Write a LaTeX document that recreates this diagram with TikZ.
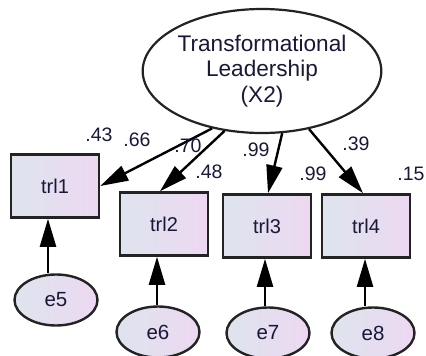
\documentclass[tikz,border=0pt]{standalone}
\usepackage{fontspec}
\setmainfont{Liberation Sans}
\usetikzlibrary{arrows.meta,shapes.geometric}
\definecolor{ink}{RGB}{24,24,56}
\definecolor{edge}{RGB}{35,35,35}
\definecolor{fillA}{RGB}{222,228,238}
\definecolor{fillB}{RGB}{237,216,241}
\begin{document}
\begin{tikzpicture}[x=1pt,y=-1pt,
  obs/.style={draw=edge, line width=2.6pt, rectangle, left color=fillA, right color=fillB,
    minimum width=88pt, minimum height=63pt, inner sep=0pt, text=ink,
    font=\fontsize{20}{24}\selectfont},
  err/.style={draw=edge, line width=2.4pt, ellipse, left color=fillA, right color=fillB,
    minimum width=83pt, minimum height=51pt, inner sep=0pt, text=ink,
    font=\fontsize{20.5}{24}\selectfont},
  lat/.style={draw=edge, line width=2.2pt, ellipse, fill=white,
    minimum width=220pt, minimum height=124pt, inner sep=0pt, align=center, text=ink,
    font=\fontsize{22.6}{25.5}\selectfont},
  link/.style={draw=black, line width=2.4pt, -{Triangle[length=28pt,width=16pt]}},
  coef/.style={text=ink, inner sep=0pt, font=\fontsize{19.5}{22}\selectfont}]
\useasboundingbox (0,0) rectangle (426,356);

% latent factor
\node[lat] (X2) at (262,71) {Transformational\\Leadership\\(X2)};

% indicators
\node[obs] (trl1) at (55,186) {trl1};
\node[obs] (trl2) at (164,224) {trl2};
\node[obs] (trl3) at (267,226) {trl3};
\node[obs] (trl4) at (366,226) {trl4};

% error terms
\node[err] (e5) at (56,300) {e5};
\node[err] (e6) at (158,332) {e6};
\node[err] (e7) at (268,333) {e7};
\node[err] (e8) at (373,333) {e8};

% loadings
\draw[link] (X2.229) -- (trl1.east);
\draw[link] (X2.238) -- ([xshift=-4pt]trl2.north);
\draw[link] (X2.288) -- ([xshift=1pt]trl3.north);
\draw[link] (X2.309) -- ([xshift=-3pt]trl4.north);

% error paths
\draw[link] ([xshift=-8pt]e5.north) -- ([xshift=-8pt]e5.north |- trl1.south);
\draw[link] ([xshift=-1pt]e6.north) -- ([xshift=-1pt]e6.north |- trl2.south);
\draw[link] ([xshift=-3pt]e7.north) -- ([xshift=-3pt]e7.north |- trl3.south);
\draw[link] ([xshift=-8pt]e8.north) -- ([xshift=-8pt]e8.north |- trl4.south);

% estimates
\node[coef] (c1) at (99,135) {.43};
\node[coef] (c2) at (137,140) {.66};
\node[coef] (c3) at (188,146) {.70};
\node[coef] (c4) at (209,172) {.48};
\node[coef] (c5) at (256,150) {.99};
\node[coef] (c6) at (313,174) {.99};
\node[coef] (c7) at (356,144) {.39};
\node[coef] (c8) at (411,174) {.15};
\end{tikzpicture}
\end{document}
